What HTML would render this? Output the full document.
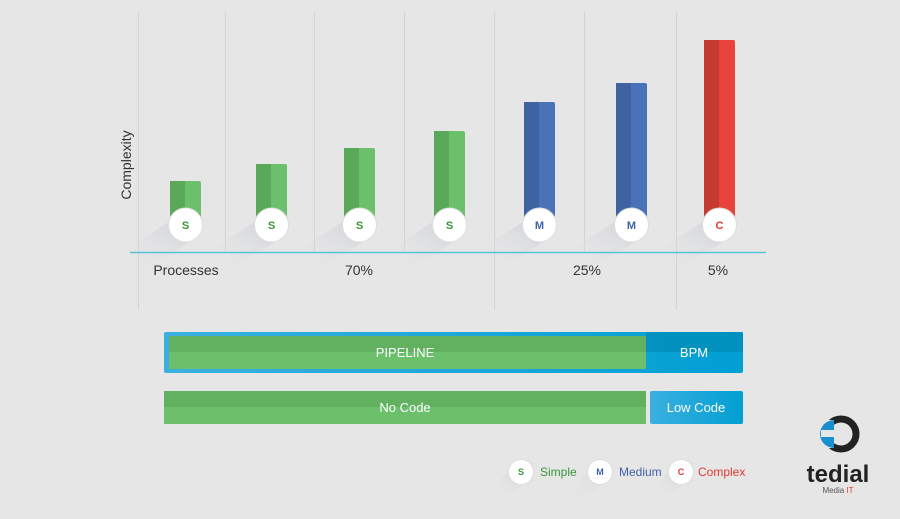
<!DOCTYPE html>
<html><head><style>
html,body{margin:0;padding:0;background:#e6e6e6;}
svg{display:block;font-family:"Liberation Sans",sans-serif;}
</style></head><body>
<svg width="900" height="519" viewBox="0 0 900 519">
<defs>
<linearGradient id="sh" x1="1" y1="0" x2="0" y2="1"><stop offset="0" stop-color="#c8ccd4" stop-opacity="0.9"/><stop offset="1" stop-color="#e6e6e6" stop-opacity="0"/></linearGradient>
<linearGradient id="blue" x1="0" y1="0" x2="1" y2="0"><stop offset="0" stop-color="#3bb0df"/><stop offset="1" stop-color="#019fd3"/></linearGradient>
</defs>
<rect width="900" height="519" fill="#e6e6e6"/>
<g stroke="#d3d3d3" stroke-width="1">
<line x1="138.5" y1="12" x2="138.5" y2="310"/>
<line x1="225.5" y1="12" x2="225.5" y2="252"/>
<line x1="314.5" y1="12" x2="314.5" y2="252"/>
<line x1="404.5" y1="12" x2="404.5" y2="252"/>
<line x1="494.5" y1="12" x2="494.5" y2="310"/>
<line x1="584.5" y1="12" x2="584.5" y2="252"/>
<line x1="676.5" y1="12" x2="676.5" y2="310"/>
</g>
<text x="131" y="165" font-size="14" fill="#333" transform="rotate(-90 131 165)" text-anchor="middle">Complexity</text>
<g fill="url(#sh)">
<polygon points="172,220 196,238 150,266 128,248"/>
<polygon points="258,220 282,238 236,266 214,248"/>
<polygon points="346,220 370,238 324,266 302,248"/>
<polygon points="436,220 460,238 414,266 392,248"/>
<polygon points="526,220 550,238 504,266 482,248"/>
<polygon points="618,220 642,238 596,266 574,248"/>
<polygon points="706,220 730,238 684,266 662,248"/>
</g>
<rect x="170" y="181" width="31" height="44" rx="2" fill="#6cc06c"/><rect x="170" y="181" width="15" height="44" fill="#5aa95a"/>
<rect x="256" y="164" width="31" height="61" rx="2" fill="#6cc06c"/><rect x="256" y="164" width="15" height="61" fill="#5aa95a"/>
<rect x="344" y="148" width="31" height="77" rx="2" fill="#6cc06c"/><rect x="344" y="148" width="15" height="77" fill="#5aa95a"/>
<rect x="434" y="131" width="31" height="94" rx="2" fill="#6cc06c"/><rect x="434" y="131" width="15" height="94" fill="#5aa95a"/>
<rect x="524" y="102" width="31" height="123" rx="2" fill="#4a72b8"/><rect x="524" y="102" width="15" height="123" fill="#3f62a0"/>
<rect x="616" y="83" width="31" height="142" rx="2" fill="#4a72b8"/><rect x="616" y="83" width="15" height="142" fill="#3f62a0"/>
<rect x="704" y="40" width="31" height="185" rx="2" fill="#e8433a"/><rect x="704" y="40" width="15" height="185" fill="#c43a30"/>
<g fill="#fff" stroke="#ddd" stroke-width="1">
<circle cx="185.5" cy="225" r="17"/><circle cx="271.5" cy="225" r="17"/><circle cx="359.5" cy="225" r="17"/><circle cx="449.5" cy="225" r="17"/><circle cx="539.5" cy="225" r="17"/><circle cx="631.5" cy="225" r="17"/><circle cx="719.5" cy="225" r="17"/>
</g>
<g font-size="11" text-anchor="middle" font-weight="bold">
<text x="185.5" y="229" fill="#3a963a">S</text><text x="271.5" y="229" fill="#3a963a">S</text><text x="359.5" y="229" fill="#3a963a">S</text><text x="449.5" y="229" fill="#3a963a">S</text>
<text x="539.5" y="229" fill="#3f62a8">M</text><text x="631.5" y="229" fill="#3f62a8">M</text><text x="719.5" y="229" fill="#e03a30">C</text>
</g>
<line x1="130" y1="252.5" x2="766" y2="252.5" stroke="#5cc0dc" stroke-width="1.5"/>
<g font-size="14" fill="#333" text-anchor="middle">
<text x="186" y="275">Processes</text><text x="359" y="275">70%</text><text x="587" y="275">25%</text><text x="718" y="275">5%</text>
</g>
<rect x="164" y="332" width="579" height="41" rx="2" fill="url(#blue)"/>
<rect x="646" y="332" width="97" height="20" fill="#0088b3" opacity="0.6"/>
<rect x="169" y="336" width="477" height="33" fill="#6cc06c"/>
<rect x="169" y="336" width="477" height="16" fill="#5aa65a" opacity="0.6"/>
<text x="405" y="357" font-size="13" fill="#fff" text-anchor="middle">PIPELINE</text>
<text x="694" y="357" font-size="13" fill="#fff" text-anchor="middle">BPM</text>
<rect x="164" y="391" width="482" height="33" fill="#6cc06c"/>
<rect x="164" y="391" width="482" height="16" fill="#5aa65a" opacity="0.6"/>
<rect x="650" y="391" width="93" height="33" rx="2" fill="url(#blue)"/>
<text x="405" y="412" font-size="13" fill="#fff" text-anchor="middle">No Code</text>
<text x="696" y="412" font-size="13" fill="#fff" text-anchor="middle">Low Code</text>
<g fill="url(#sh)" opacity="0.7">
<polygon points="512,468 530,480 500,500 494,486"/><polygon points="591,468 609,480 579,500 573,486"/><polygon points="672,468 690,480 660,500 654,486"/>
</g>
<g fill="#fff" stroke="#ddd"><circle cx="521" cy="472" r="12.5"/><circle cx="600" cy="472" r="12.5"/><circle cx="681" cy="472" r="12.5"/></g>
<g font-size="9" text-anchor="middle" font-weight="bold"><text x="521" y="475" fill="#3a963a">S</text><text x="600" y="475" fill="#3f62a8">M</text><text x="681" y="475" fill="#e03a30">C</text></g>
<g font-size="12"><text x="540" y="476" fill="#3a963a">Simple</text><text x="619" y="476" fill="#3f62a8">Medium</text><text x="698" y="476" fill="#e03a30">Complex</text></g>
<circle cx="841" cy="434" r="15" fill="none" stroke="#222" stroke-width="7"/>
<rect x="818" y="420" width="16" height="28" fill="#e6e6e6"/>
<path d="M834 420 A14 14 0 0 0 834 448 Z" fill="#1a8fd0"/>
<rect x="821" y="430" width="13" height="7" fill="#e6e6e6"/>
<text x="838" y="482" font-size="24" font-weight="bold" fill="#222" text-anchor="middle">tedial</text>
<text x="838" y="493" font-size="8" fill="#555" text-anchor="middle">Media <tspan fill="#e03a30">IT</tspan></text>
</svg>
</body></html>
